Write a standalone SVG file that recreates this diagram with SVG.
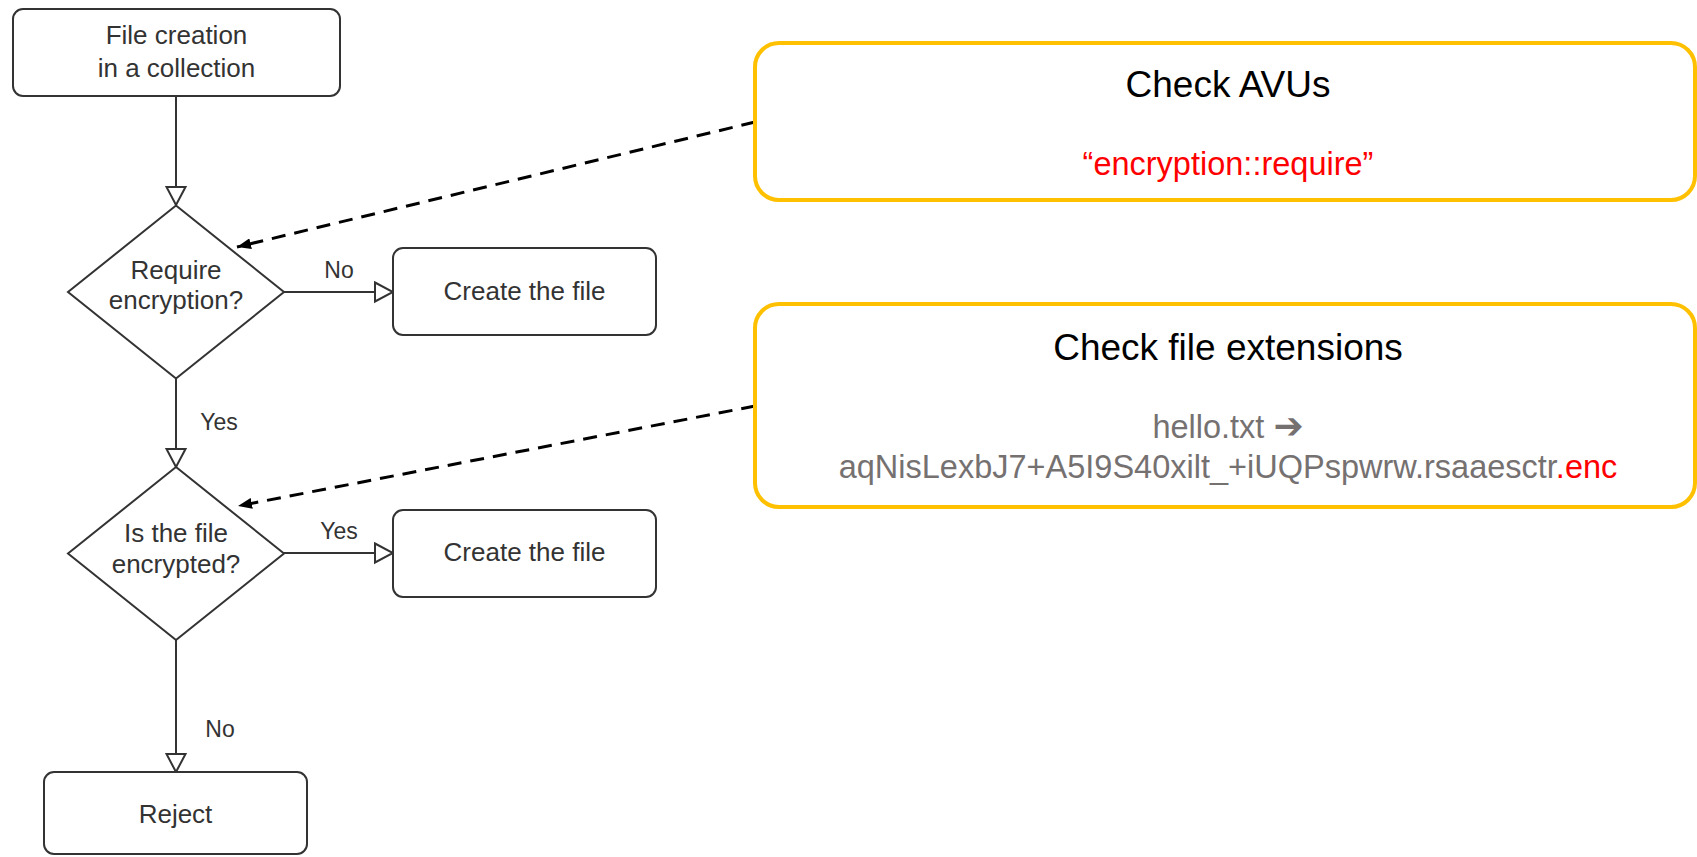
<svg xmlns="http://www.w3.org/2000/svg" width="1697" height="857" viewBox="0 0 1697 857">
  <style>
    .node { fill: #ffffff; stroke: #333333; stroke-width: 2; }
    .ntext { font-family: "Liberation Sans", Arial, sans-serif; font-size: 26px; fill: #333333; text-anchor: middle; }
    .etext { font-family: "Liberation Sans", Arial, sans-serif; font-size: 23px; fill: #333333; text-anchor: middle; }
    .flow { fill: none; stroke: #333333; stroke-width: 2; marker-end: url(#open); }
    .dash { fill: none; stroke: #000000; stroke-width: 3; stroke-dasharray: 14 9; marker-end: url(#solid); }
    .note { fill: #ffffff; stroke: #FFC000; stroke-width: 4; }
    .head { font-family: "Liberation Sans", Arial, sans-serif; font-size: 37px; fill: #000000; text-anchor: middle; }
    .body { font-family: "Liberation Sans", Arial, sans-serif; font-size: 32.5px; fill: #767171; text-anchor: middle; }
    .red { fill: #FF0000; }
    .sym { font-family: "DejaVu Sans", sans-serif; font-size: 36px; font-weight: bold; }
  </style>
  <defs>
    <marker id="open" viewBox="-2 -2 22 23" refX="18" refY="9.5" markerWidth="22" markerHeight="23" markerUnits="userSpaceOnUse" orient="auto">
      <path d="M0,0 L18,9.5 L0,19 Z" fill="#ffffff" stroke="#333333" stroke-width="2"/>
    </marker>
    <marker id="solid" viewBox="0 0 14 11" refX="14" refY="5.5" markerWidth="14" markerHeight="11" markerUnits="userSpaceOnUse" orient="auto">
      <path d="M0,0 L14,5.5 L0,11 Z" fill="#000000"/>
    </marker>
  </defs>

  <g id="connectors">
    <line class="flow" x1="176" y1="96" x2="176" y2="205"/>
    <line class="flow" x1="284" y1="292" x2="393" y2="292"/>
    <line class="flow" x1="176" y1="379" x2="176" y2="467"/>
    <line class="flow" x1="284" y1="553" x2="393" y2="553"/>
    <line class="flow" x1="176" y1="640" x2="176" y2="772"/>
    <text class="etext" x="339" y="278">No</text>
    <text class="etext" x="219" y="430">Yes</text>
    <text class="etext" x="339" y="539">Yes</text>
    <text class="etext" x="220" y="737">No</text>
    <line class="dash" x1="755" y1="122" x2="237" y2="247"/>
    <line class="dash" x1="755" y1="406" x2="238" y2="506"/>
  </g>

  <g id="start">
    <rect class="node" x="13" y="9" width="327" height="87" rx="10"/>
    <text class="ntext" x="176.5" y="44">File creation</text>
    <text class="ntext" x="176.5" y="77">in a collection</text>
  </g>

  <g id="decision-require">
    <polygon class="node" points="176,205.5 284,292 176,378.5 68,292"/>
    <text class="ntext" x="176" y="279">Require</text>
    <text class="ntext" x="176" y="309">encryption?</text>
  </g>

  <g id="create-1">
    <rect class="node" x="393" y="248" width="263" height="87" rx="10"/>
    <text class="ntext" x="524.5" y="300">Create the file</text>
  </g>

  <g id="decision-encrypted">
    <polygon class="node" points="176,467 284,553.5 176,640 68,553.5"/>
    <text class="ntext" x="176" y="542">Is the file</text>
    <text class="ntext" x="176" y="573">encrypted?</text>
  </g>

  <g id="create-2">
    <rect class="node" x="393" y="510" width="263" height="87" rx="10"/>
    <text class="ntext" x="524.5" y="561">Create the file</text>
  </g>

  <g id="reject">
    <rect class="node" x="44" y="772" width="263" height="82" rx="10"/>
    <text class="ntext" x="175.5" y="823">Reject</text>
  </g>

  <g id="note-avus">
    <rect class="note" x="755" y="43" width="940" height="157" rx="24"/>
    <text class="head" x="1228" y="97">Check AVUs</text>
    <text class="body red" x="1228" y="175">“encryption::require”</text>
  </g>

  <g id="note-extensions">
    <rect class="note" x="755" y="304" width="940" height="203" rx="24"/>
    <text class="head" x="1228" y="360">Check file extensions</text>
    <text class="body" x="1228" y="438">hello.txt <tspan class="sym">➔</tspan></text>
    <text class="body" x="1228" y="478">aqNisLexbJ7+A5I9S40xilt_+iUQPspwrw.rsaaesctr<tspan class="red">.enc</tspan></text>
  </g>
</svg>
